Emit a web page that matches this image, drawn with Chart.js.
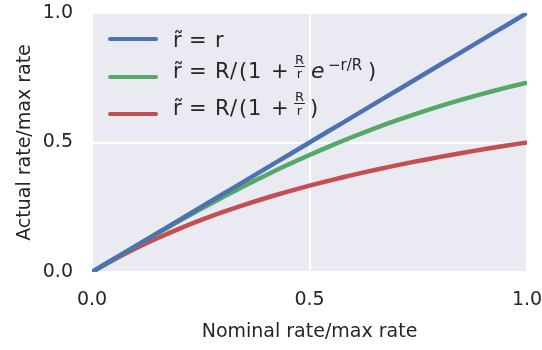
<!DOCTYPE html>
<html>
<head>
<meta charset="utf-8">
<script src="https://cdn.jsdelivr.net/npm/chart.js@4/dist/chart.umd.min.js"></script>
<style>
  html, body { margin: 0; padding: 0; background: #fff; }
  #wrap { width: 542px; height: 350px; }
</style>
</head>
<body>
<div id="wrap"><canvas id="myChart" width="542" height="350"></canvas></div>
<script>
// nominal rate / max rate
const nominal = [0, 0.05, 0.1, 0.15, 0.2, 0.25, 0.3, 0.35, 0.4, 0.45, 0.5,
  0.55, 0.6, 0.65, 0.7, 0.75, 0.8, 0.85, 0.9, 0.95, 1.0];
// actual rate / max rate, one list per curve
const linearRate = [0, 0.05, 0.1, 0.15, 0.2, 0.25, 0.3, 0.35, 0.4, 0.45, 0.5,
  0.55, 0.6, 0.65, 0.7, 0.75, 0.8, 0.85, 0.9, 0.95, 1.0];
const expRate = [0, 0.0499, 0.0995, 0.1484, 0.1963, 0.2430, 0.2882, 0.3318, 0.3737, 0.4138, 0.4519,
  0.4881, 0.5223, 0.5546, 0.5850, 0.6135, 0.6404, 0.6654, 0.6888, 0.7107, 0.7311];
const satRate = [0, 0.0476, 0.0909, 0.1304, 0.1667, 0.2, 0.2308, 0.2593, 0.2857, 0.3103, 0.3333,
  0.3548, 0.375, 0.3939, 0.4118, 0.4286, 0.4444, 0.4595, 0.4737, 0.4872, 0.5];
const tickValues = [0, 0.5, 1.0];

const colors = ["#4C72B0", "#55A868", "#C44E52"];
const FONT = "'DejaVu Sans', sans-serif";

function pts(ys) {
  return nominal.map((x, i) => ({ x: x, y: ys[i] }));
}

// grey seaborn-like background
const bgPlugin = {
  id: "bg",
  beforeDraw(chart) {
    const { ctx, chartArea: a } = chart;
    ctx.save();
    ctx.fillStyle = "#EAEAF2";
    ctx.fillRect(a.left, a.top, a.right - a.left, a.bottom - a.top);
    ctx.restore();
  }
};

// legend with the math labels, pieces placed one by one like mathtext
const mathLegend = {
  id: "mathLegend",
  afterDatasetsDraw(chart) {
    const ctx = chart.ctx;
    const a = chart.chartArea;
    const x0 = a.left + 18, x1 = x0 + 46, tx = x1 + 17;
    const rows = [a.top + 26, a.top + 64, a.top + 101];
    ctx.save();
    rows.forEach((y, i) => {
      ctx.strokeStyle = colors[i];
      ctx.lineWidth = 4;
      ctx.lineCap = "round";
      ctx.beginPath();
      ctx.moveTo(x0, y);
      ctx.lineTo(x1, y);
      ctx.stroke();
    });
    ctx.fillStyle = "#262626";
    ctx.textBaseline = "alphabetic";
    const big = "21px " + FONT, small = "13px " + FONT, sup = "15px " + FONT;

    function put(s, dx, y, f) {
      ctx.font = f;
      ctx.fillText(s, tx + dx, y);
    }
    function head(y) {
      put("r\u0303", 0, y, big);
      put("=", 16, y, big);
    }
    function frac(dx, y) {
      ctx.font = small;
      const wR = ctx.measureText("R").width;
      const wr = ctx.measureText("r").width;
      ctx.fillText("R", tx + dx, y - 14);
      ctx.fillText("r", tx + dx + (wR - wr) / 2, y - 0.5);
      ctx.strokeStyle = "#262626";
      ctx.lineWidth = 1;
      ctx.beginPath();
      ctx.moveTo(tx + dx - 0.5, y - 11.5);
      ctx.lineTo(tx + dx + wR + 0.5, y - 11.5);
      ctx.stroke();
    }
    function restR(y) {
      put("R", 42, y, big);
      put("/", 57, y, big);
      put("(", 66, y, big);
      put("1", 75, y, big);
      put("+", 98, y, big);
    }

    // row 1
    let y = rows[0] + 8;
    head(y);
    put("r", 42, y, big);
    // row 2
    y = rows[1] + 1;
    head(y);
    restR(y);
    frac(122, y);
    put("e", 138, y, "italic 22px " + FONT);
    put("\u2212r/R", 155, y - 8, sup);
    put(")", 195, y, big);
    // row 3
    y = rows[2] + 1;
    head(y);
    restR(y);
    frac(122, y);
    put(")", 137, y, big);
    ctx.restore();
  }
};

const ctx = document.getElementById("myChart");
new Chart(ctx, {
  type: "line",
  data: {
    datasets: [
      { label: "linear", data: pts(linearRate), borderColor: colors[0] },
      { label: "exp", data: pts(expRate), borderColor: colors[1] },
      { label: "sat", data: pts(satRate), borderColor: colors[2] }
    ].map(d => Object.assign(d, {
      borderWidth: 4.5, pointRadius: 0, tension: 0.3, fill: false, borderCapStyle: "butt"
    }))
  },
  options: {
    responsive: false,
    animation: false,
    layout: { padding: { top: 13, right: 15, left: 10, bottom: 3 } },
    plugins: { legend: { display: false }, tooltip: { enabled: false } },
    scales: {
      x: {
        type: "linear", min: 0, max: 1,
        afterBuildTicks: s => { s.ticks = tickValues.map(v => ({ value: v })); },
        afterFit: s => { s.height = 75; s.paddingLeft = 0; s.paddingRight = 0; },
        ticks: { color: "#262626", font: { family: FONT, size: 19 }, padding: 17,
          callback: v => v.toFixed(1) },
        grid: { color: "#ffffff", lineWidth: 2, drawTicks: false },
        border: { display: false },
        title: { display: true, text: "Nominal rate/max rate", color: "#262626",
          font: { family: FONT, size: 19 }, padding: { top: 12 } }
      },
      y: {
        min: 0, max: 1,
        afterBuildTicks: s => { s.ticks = tickValues.map(v => ({ value: v })); },
        afterFit: s => { s.width = 82; s.paddingTop = 0; s.paddingBottom = 0; },
        ticks: { color: "#262626", font: { family: FONT, size: 19 }, padding: 19,
          callback: v => v.toFixed(1) },
        grid: { color: "#ffffff", lineWidth: 2, drawTicks: false },
        border: { display: false },
        title: { display: true, text: "Actual rate/max rate", color: "#262626",
          font: { family: FONT, size: 19 }, padding: { bottom: 6 } }
      }
    }
  },
  plugins: [bgPlugin, mathLegend]
});
</script>
</body>
</html>
